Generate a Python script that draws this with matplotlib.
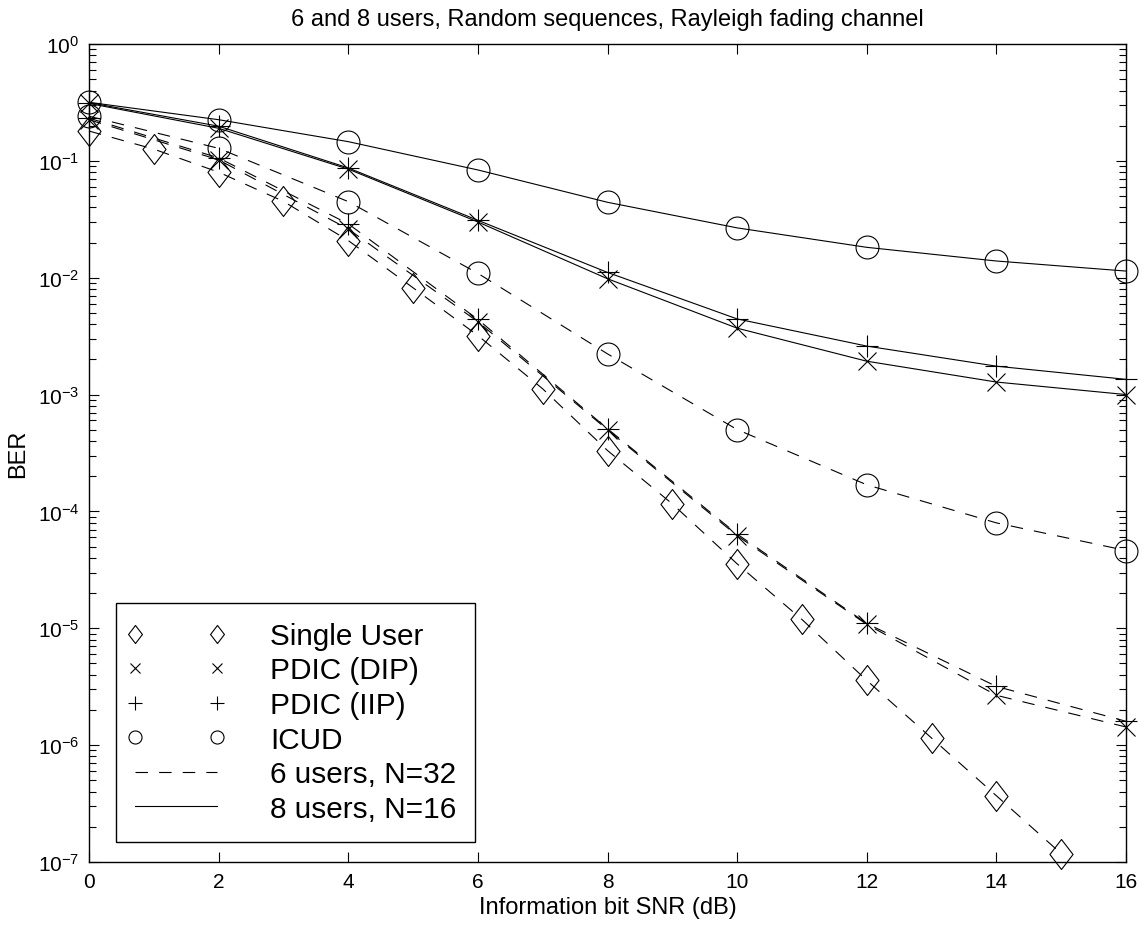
import matplotlib
matplotlib.use("Agg")
import matplotlib.pyplot as plt
from matplotlib.lines import Line2D
from matplotlib.path import Path
from matplotlib.legend_handler import HandlerLine2D
from matplotlib.ticker import LogLocator, NullFormatter, FixedLocator

plt.rcParams['font.family'] = ['Liberation Sans', 'DejaVu Sans']
plt.rcParams['mathtext.fontset'] = 'custom'
plt.rcParams['mathtext.rm'] = 'Liberation Sans'
plt.rcParams['mathtext.it'] = 'Liberation Sans:italic'
plt.rcParams['lines.scale_dashes'] = False

# data
snr = [0, 2, 4, 6, 8, 10, 12, 14, 16]
snr_single = list(range(16))
single_user = [0.18, 0.126, 0.080, 0.045, 0.0208, 0.0082, 0.0032, 0.00112,
               3.32e-4, 1.16e-4, 3.56e-5, 1.19e-5, 3.58e-6, 1.15e-6, 3.69e-7, 1.18e-7]

# 6 users, N=32 (dashed)
icud_6 = [0.241, 0.128, 0.0448, 0.0109, 2.23e-3, 5.02e-4, 1.69e-4, 7.98e-5, 4.63e-5]
dip_6 = [0.225, 0.102, 0.0261, 0.0042, 5.0e-4, 6.2e-5, 1.08e-5, 2.67e-6, 1.43e-6]
iip_6 = [0.232, 0.106, 0.0289, 0.0044, 5.1e-4, 6.4e-5, 1.1e-5, 3.18e-6, 1.6e-6]

# 8 users, N=16 (solid)
icud_8 = [0.317, 0.225, 0.146, 0.0836, 0.0442, 0.0267, 0.0182, 0.0139, 0.0114]
dip_8 = [0.31, 0.19, 0.085, 0.030, 0.0098, 0.0037, 0.00193, 0.00128, 0.001]
iip_8 = [0.315, 0.198, 0.087, 0.031, 0.0111, 0.00444, 0.0026, 0.00175, 0.00135]

diamond = Path([(0, 1), (0.77, 0), (0, -1), (-0.77, 0), (0, 1)],
               [Path.MOVETO, Path.LINETO, Path.LINETO, Path.LINETO, Path.CLOSEPOLY])

fig = plt.figure(figsize=(11.45, 9.29), dpi=100)
ax = fig.add_axes([89 / 1145, 66 / 929, 1037 / 1145, 818 / 929])

dash = (0, (9, 8))
lw = 0.8
mk = dict(color="k", mfc="none", mew=0.8)

# markers are not clipped at the axes edge (matlab look)
ax.plot(snr_single, single_user, ls=dash, lw=lw, marker=diamond, ms=21.6, clip_on=False, **mk)
for ls, icud, dip, iip in ((dash, icud_6, dip_6, iip_6), ("-", icud_8, dip_8, iip_8)):
    ax.plot(snr, icud, ls=ls, lw=lw, marker="o", ms=16.5, clip_on=False, **mk)
    ax.plot(snr, dip, ls=ls, lw=lw, marker="x", ms=12.5, clip_on=False, **mk)
    ax.plot(snr, iip, ls=ls, lw=lw, marker="+", ms=16.5, clip_on=False, **mk)

ax.set_yscale("log")
ax.set_xlim(0, 16)
ax.set_ylim(1e-7, 1)
ax.set_xticks(range(0, 17, 2))
ax.yaxis.set_major_locator(FixedLocator([10.0 ** k for k in range(-7, 1)]))
ax.yaxis.set_minor_locator(LogLocator(base=10, subs=range(2, 10), numticks=20))
ax.yaxis.set_minor_formatter(NullFormatter())
ax.tick_params(which="both", direction="in", top=True, right=True, labelsize=15, width=0.8)
ax.tick_params(which="major", length=7.5, pad=7)
ax.tick_params(which="minor", length=5)
for s in ax.spines.values():
    s.set_linewidth(1.0)

ax.set_title("6 and 8 users, Random sequences, Rayleigh fading channel", fontsize=17, pad=14)
ax.set_xlabel("Information bit SNR (dB)", fontsize=17, labelpad=4)
ax.set_ylabel("BER", fontsize=17, labelpad=6)

handles = [
    Line2D([], [], ls="none", marker=diamond, ms=13, **mk),
    Line2D([], [], ls="none", marker="x", ms=7.2, **mk),
    Line2D([], [], ls="none", marker="+", ms=9.4, **mk),
    Line2D([], [], ls="none", marker="o", ms=9.4, **mk),
    Line2D([], [], ls=dash, color="k", lw=lw),
    Line2D([], [], ls="-", color="k", lw=lw),
]
labels = ["Single User", "PDIC (DIP)", "PDIC (IIP)", "ICUD", "6 users, N=32", "8 users, N=16"]
leg = ax.legend(handles, labels, loc="lower left", bbox_to_anchor=(0.026, 0.0245),
                borderaxespad=0, fontsize=21.4, handlelength=2.75, handletextpad=1.78,
                labelspacing=0.22, borderpad=0.65, fancybox=False, framealpha=1,
                edgecolor="k", handler_map={Line2D: HandlerLine2D(marker_pad=0, numpoints=2)})
leg.get_frame().set_linewidth(1.0)

fig.savefig("out.png", dpi=100)
